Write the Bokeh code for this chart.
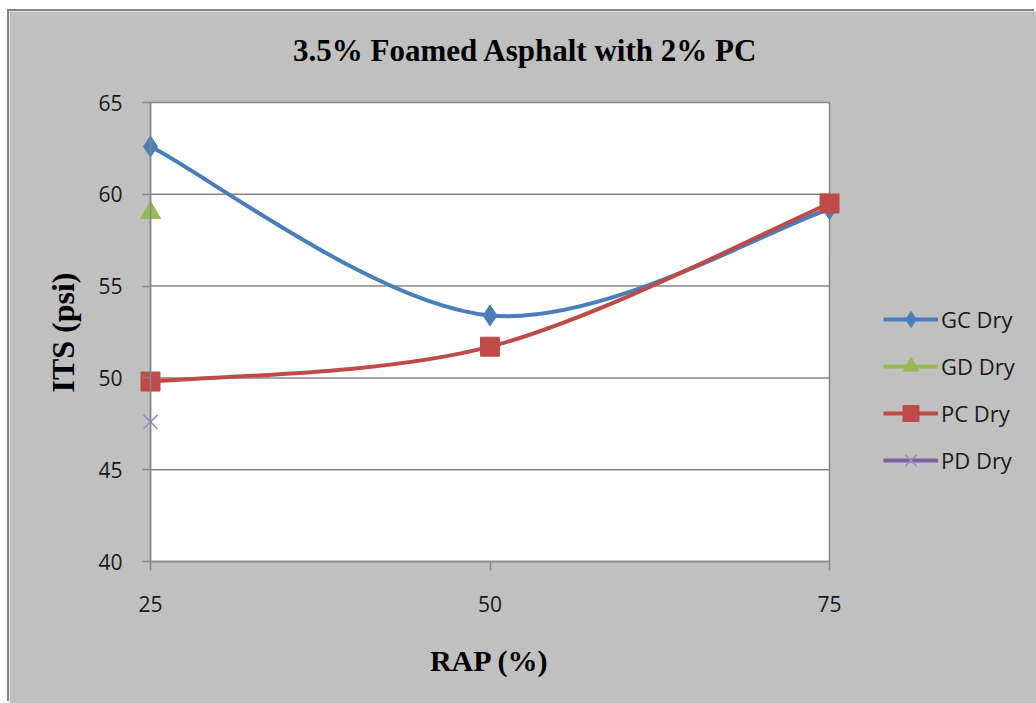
import numpy as np
from bokeh.plotting import figure
from bokeh.models import Range1d, BoxAnnotation, Label, Legend, LegendItem, FixedTicker
from bokeh.embed import file_html
from bokeh.resources import INLINE

# ---- data ----
rap = [25, 50, 75]
gc_dry = [62.6, 53.4, 59.2]
pc_dry = [49.8, 51.7, 59.5]
gd_rap = [25]
gd_dry = [59.0]
pd_rap = [25]
pd_dry = [47.6]
x_ticks = [25, 50, 75]
y_ticks = [40, 45, 50, 55, 60, 65]
series_names = ["GC Dry", "GD Dry", "PC Dry", "PD Dry"]

BLUE = "#4a7ebb"
GREEN = "#98b954"
RED = "#be4b48"
PURPLE = "#7d60a0"
GRID = "#878787"
BG = "#c0c0c0"

# ---- layout (canvas pixels) ----
W, H = 1027, 692
PL, PR, PT, PB = 141, 820, 91, 550      # white plot area edges
xs_px = (PR - PL) / (x_ticks[-1] - x_ticks[0])
ys_px = (PB - PT) / (y_ticks[-1] - y_ticks[0])
x_start = x_ticks[0] - PL / xs_px
x_end = x_ticks[-1] + (W - PR) / xs_px
y_end = y_ticks[-1] + PT / ys_px
y_start = y_ticks[0] - (H - PB) / ys_px


def smooth_segments(xs, ys, t=1.0 / 6.0):
    """Excel-like smoothed line: cubic Bezier control points (Catmull-Rom)."""
    n = len(xs)
    P = list(zip(xs, ys))
    seg = dict(x0=[], y0=[], x1=[], y1=[], cx0=[], cy0=[], cx1=[], cy1=[])
    for i in range(n - 1):
        p0 = P[i - 1] if i > 0 else P[i]
        p1 = P[i]
        p2 = P[i + 1]
        p3 = P[i + 2] if i + 2 < n else P[i + 1]
        seg["x0"].append(p1[0]); seg["y0"].append(p1[1])
        seg["x1"].append(p2[0]); seg["y1"].append(p2[1])
        seg["cx0"].append(p1[0] + (p2[0] - p0[0]) * t)
        seg["cy0"].append(p1[1] + (p2[1] - p0[1]) * t)
        seg["cx1"].append(p2[0] - (p3[0] - p1[0]) * t)
        seg["cy1"].append(p2[1] - (p3[1] - p1[1]) * t)
    return seg


p = figure(width=W, height=H, output_backend="svg", toolbar_location=None,
           x_range=Range1d(x_start, x_end), y_range=Range1d(y_start, y_end),
           min_border=0)
p.margin = (11, 0, 0, 9)
p.styles = {"box-shadow": "-2px -2px 0px 0px #858585"}
p.background_fill_color = BG
p.border_fill_color = BG
p.outline_line_color = None

# white plot area
p.add_layout(BoxAnnotation(left=x_ticks[0], right=x_ticks[-1], bottom=y_ticks[0], top=y_ticks[-1],
                           fill_color="white", fill_alpha=1.0,
                           line_color=GRID, line_alpha=1.0, line_width=1.5, level="image"))

# horizontal grid lines limited to the plot area
p.xgrid.visible = False
p.ygrid.visible = False
inner = y_ticks[1:-1]
p.segment(x0=[x_ticks[0]] * len(inner), y0=inner, x1=[x_ticks[-1]] * len(inner), y1=inner,
          line_color=GRID, line_width=1.5, level="underlay")

# axes
for ax in (p.xaxis[0], p.yaxis[0]):
    ax.axis_line_color = GRID
    ax.axis_line_width = 1.5
    ax.major_tick_line_color = GRID
    ax.major_tick_line_width = 1.5
    ax.major_tick_in = 0
    ax.major_tick_out = 8
    ax.minor_tick_line_color = None
    ax.major_label_text_font = "Open Sans"
    ax.major_label_text_font_size = "21px"
    ax.major_label_text_color = "#1a1a1a"
p.xaxis.ticker = FixedTicker(ticks=x_ticks)
p.yaxis.ticker = FixedTicker(ticks=y_ticks)
p.xaxis.bounds = (x_ticks[0], x_ticks[-1])
p.yaxis.bounds = (y_ticks[0], y_ticks[-1])
p.yaxis.fixed_location = x_ticks[0]
p.xaxis.fixed_location = y_ticks[0]
p.yaxis.major_label_standoff = 20
p.xaxis.major_label_standoff = 25
p.xaxis.major_tick_out = 9

# smooth curves
gc_seg = smooth_segments(rap, gc_dry)
pc_seg = smooth_segments(rap, pc_dry)
p.bezier(source=gc_seg, x0="x0", y0="y0", x1="x1", y1="y1", cx0="cx0", cy0="cy0",
         cx1="cx1", cy1="cy1", line_color=BLUE, line_width=4, line_cap="round")
p.bezier(source=pc_seg, x0="x0", y0="y0", x1="x1", y1="y1", cx0="cx0", cy0="cy0",
         cx1="cx1", cy1="cy1", line_color=RED, line_width=4, line_cap="round")

# legend line stubs (single point, nothing drawn in plot)
gc_l = p.line(rap[:1], gc_dry[:1], line_color=BLUE, line_width=4)
gd_l = p.line(gd_rap, gd_dry, line_color=GREEN, line_width=4)
pc_l = p.line(rap[:1], pc_dry[:1], line_color=RED, line_width=4)
pd_l = p.line(pd_rap, pd_dry, line_color=PURPLE, line_width=4)

# markers
gc_s = p.scatter(rap, gc_dry, marker="diamond", size=21,
                 fill_color=BLUE, line_color=BLUE)
gd_s = p.scatter(gd_rap, gd_dry, marker="triangle", size=20,
                 fill_color=GREEN, line_color=GREEN)
pc_s = p.scatter(rap, pc_dry, marker="square", size=19,
                 fill_color=RED, line_color=RED)
pd_s = p.scatter(pd_rap, pd_dry, marker="x", size=20,
                 line_color="#9a8bc6", line_width=1.5)

legend = Legend(items=[
    LegendItem(label=series_names[0], renderers=[gc_l, gc_s]),
    LegendItem(label=series_names[1], renderers=[gd_l, gd_s]),
    LegendItem(label=series_names[2], renderers=[pc_l, pc_s]),
    LegendItem(label=series_names[3], renderers=[pd_l, pd_s]),
], location=(874, 223))
legend.background_fill_alpha = 0
legend.border_line_color = None
legend.padding = 0
legend.margin = 0
legend.spacing = 7
legend.glyph_width = 55
legend.glyph_height = 40
legend.label_height = 40
legend.label_standoff = 3
legend.label_text_font = "Open Sans"
legend.label_text_font_size = "22px"
legend.label_text_color = "#1a1a1a"
p.add_layout(legend, "center")

# title and axis titles
p.add_layout(Label(x=516, y=653, x_units="screen", y_units="screen",
                   text="3.5% Foamed Asphalt with 2% PC", text_font="Liberation Serif",
                   text_font_style="bold", text_font_size="31px",
                   text_align="center", text_baseline="middle", text_color="black"))
p.add_layout(Label(x=53, y=371, x_units="screen", y_units="screen",
                   text="ITS (psi)", text_font="Liberation Serif", angle=np.pi / 2,
                   text_font_style="bold", text_font_size="32px",
                   text_align="center", text_baseline="middle", text_color="black"))
p.add_layout(Label(x=480, y=43, x_units="screen", y_units="screen",
                   text="RAP (%)", text_font="Liberation Serif",
                   text_font_style="bold", text_font_size="30px",
                   text_align="center", text_baseline="middle", text_color="black"))

open("out.html", "w").write(file_html(p, INLINE))
